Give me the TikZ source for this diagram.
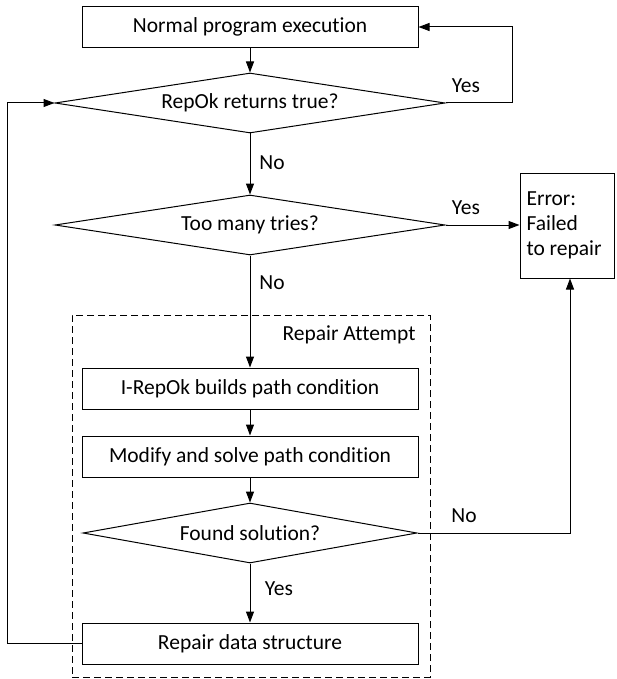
\documentclass[tikz,border=0pt]{standalone}
\usepackage{fontspec}
\setmainfont[Ligatures=NoCommon]{Carlito}
\usetikzlibrary{shapes.geometric,arrows.meta,calc}
\begin{document}
\begin{tikzpicture}[x=1pt,y=-1pt,
  font=\fontsize{21.5}{25}\selectfont,
  line width=1pt,
  procbox/.style={draw, rectangle, minimum width=336pt, minimum height=41pt, inner sep=0pt},
  decision/.style={draw, diamond, shape aspect=6.5, inner sep=0pt, minimum width=#1, minimum height=60pt},
  conn/.style={-{Triangle[length=11pt,width=8pt]}},
  lbl/.style={inner sep=0pt}
]
\useasboundingbox (0,0) rectangle (616,679);
% dashed group
\node[draw, dash pattern=on 7pt off 4pt, rectangle, inner sep=0pt,
      minimum width=358pt, minimum height=362pt] (grp) at (251,496) {};
\node[lbl, anchor=east] (grplbl) at (416,335) {Repair Attempt};

\node[procbox] (top) at (250,27) {Normal program execution};
\node[decision=390pt] (d1) at (250,103) {RepOk returns true?};
\node[decision=390pt] (d2) at (250,225) {Too many tries?};
\node[draw, rectangle, minimum width=94pt, minimum height=105pt, inner sep=0pt] (err) at (567,225.5) {};
\node[lbl, anchor=west, align=left] (errtxt) at (526,225) {Error:\\Failed\\to repair};
\node[procbox] (b1) at (250,388.5) {I-RepOk builds path condition};
\node[procbox] (b2) at (250,456.5) {Modify and solve path condition};
\node[decision=334pt] (d3) at (250,533) {Found solution?};
\node[procbox] (b3) at (250,643.5) {Repair data structure};

% connectors
\draw[conn] (top.south) -- (d1.north);
\coordinate (yesloop) at (512,103);
\draw[conn] (d1.east) -- (yesloop) |- (top.east);
\node[lbl] (yes1) at (466,86) {Yes};

\draw[conn] (d1.south) -- (d2.north);
\node[lbl] (no1) at (272,163) {No};

\draw[conn] (d2.east) -- (d2.east -| err.west);
\node[lbl] (yes2) at (466,208) {Yes};

\draw[conn] (d2.south) -- (b1.north);
\node[lbl] (no2) at (272,283) {No};

\draw[conn] (b1.south) -- (b2.north);
\draw[conn] (b2.south) -- (d3.north);
\draw[conn] (d3.south) -- (b3.north);
\node[lbl] (yes3) at (279,589) {Yes};

\coordinate (noup) at (570,533);
\draw[conn] (d3.east) -- (noup) -- (noup |- err.south);
\node[lbl] (no3) at (464,516) {No};

\coordinate (backloop) at (7,643.5);
\draw[conn] (b3.west) -- (backloop) |- (d1.west);
\end{tikzpicture}
\end{document}
